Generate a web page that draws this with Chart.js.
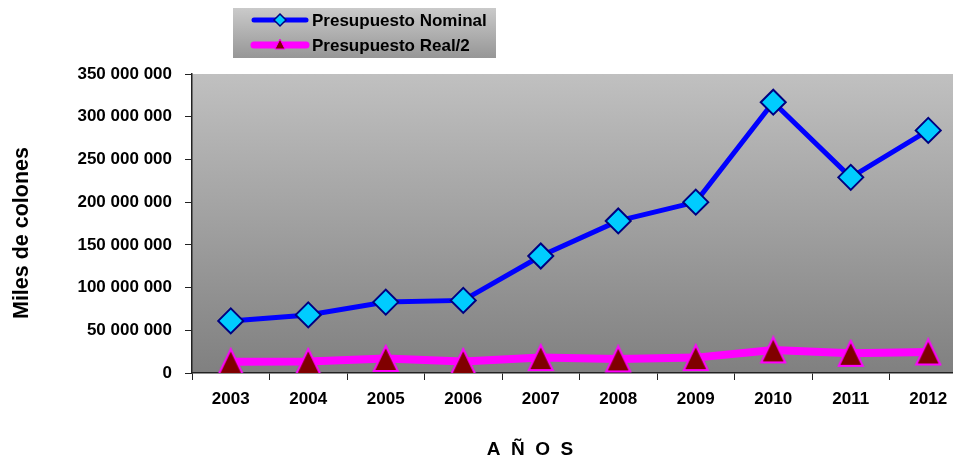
<!DOCTYPE html>
<html>
<head>
<meta charset="utf-8">
<script src="https://cdn.jsdelivr.net/npm/chart.js@4.4.1/dist/chart.umd.min.js"></script>
<style>
  html, body { margin: 0; padding: 0; background: #fff; overflow: hidden; }
  #wrap { width: 975px; height: 462px; }
  #chart { width: 975px; height: 462px; display: block; }
</style>
</head>
<body>
<div id="wrap"><canvas id="chart" width="975" height="462"></canvas></div>
<script>
const years = ["2003", "2004", "2005", "2006", "2007", "2008", "2009", "2010", "2011", "2012"];
const nominal = [61000000, 68000000, 83000000, 85000000, 137000000, 178000000, 200000000, 317000000, 229000000, 284000000];
const realHalf = [13200000, 13500000, 17000000, 13500000, 18000000, 16500000, 18000000, 27000000, 23000000, 24600000];
const seriesNames = ["Presupuesto Nominal", "Presupuesto Real/2"];
const yTicks = [0, 50000000, 100000000, 150000000, 200000000, 250000000, 300000000, 350000000];

const FONT = "'Liberation Sans', Arial, sans-serif";

function fmt(v) {
  return String(v).replace(/\B(?=(\d{3})+(?!\d))/g, " ");
}

// triangulo mas alto que equilatero, como en el original
function makeTriangle(w, h, fill, stroke, lw) {
  const c = document.createElement("canvas");
  c.width = w + lw * 2;
  c.height = h + lw * 2;
  const g = c.getContext("2d");
  g.beginPath();
  g.moveTo(c.width / 2, lw);
  g.lineTo(c.width - lw, lw + h);
  g.lineTo(lw, lw + h);
  g.closePath();
  g.fillStyle = fill;
  g.fill();
  g.lineWidth = lw;
  g.strokeStyle = stroke;
  g.stroke();
  return c;
}

const triBig = makeTriangle(24, 25, "#800000", "#ff00ff", 2);
const triSmall = makeTriangle(10, 10, "#800000", "#ff00ff", 1);

const decor = {
  id: "decor",
  beforeDraw(chart) {
    const { ctx, chartArea: a } = chart;
    const grad = ctx.createLinearGradient(0, a.top, 0, a.bottom);
    grad.addColorStop(0, "#c0c0c0");
    grad.addColorStop(1, "#808080");
    ctx.save();
    ctx.fillStyle = grad;
    ctx.fillRect(a.left, a.top, a.right - a.left, a.bottom - a.top);
    ctx.restore();
  },
  afterDraw(chart) {
    const ctx = chart.ctx;
    ctx.save();
    // leyenda
    const lg = ctx.createLinearGradient(0, 8, 0, 58);
    lg.addColorStop(0, "#cacaca");
    lg.addColorStop(1, "#969696");
    ctx.fillStyle = lg;
    ctx.fillRect(233, 8, 263, 50);

    const ds = chart.data.datasets;
    const rows = [20, 45];
    rows.forEach((y, i) => {
      ctx.strokeStyle = ds[i].borderColor;
      ctx.lineWidth = i === 0 ? 5 : 7;
      ctx.lineCap = "round";
      ctx.beginPath();
      ctx.moveTo(254, y);
      ctx.lineTo(306, y);
      ctx.stroke();
      if (i === 0) {
        ctx.beginPath();
        ctx.moveTo(280, y - 6);
        ctx.lineTo(286, y);
        ctx.lineTo(280, y + 6);
        ctx.lineTo(274, y);
        ctx.closePath();
        ctx.fillStyle = "#00ccff";
        ctx.fill();
        ctx.lineWidth = 1.5;
        ctx.strokeStyle = "#000080";
        ctx.stroke();
      } else {
        ctx.drawImage(triSmall, 280 - triSmall.width / 2, y - triSmall.height / 2 - 1);
      }
      ctx.fillStyle = "#000";
      ctx.font = "bold 17px " + FONT;
      ctx.textAlign = "left";
      ctx.textBaseline = "middle";
      ctx.fillText(ds[i].label, 312, y + 1);
    });

    // titulos de ejes
    ctx.fillStyle = "#000";
    ctx.font = "bold 19px " + FONT;
    ctx.textAlign = "center";
    ctx.textBaseline = "middle";
    ctx.fillText("A  Ñ  O  S", 530, 450);

    ctx.translate(22, 233);
    ctx.rotate(-Math.PI / 2);
    ctx.font = "bold 21.5px " + FONT;
    ctx.fillText("Miles de colones", 0, 0);
    ctx.restore();
  }
};

new Chart(document.getElementById("chart"), {
  type: "line",
  data: {
    labels: years,
    datasets: [
      {
        label: seriesNames[0],
        data: nominal,
        borderColor: "#0000ff",
        borderWidth: 5,
        pointStyle: "rectRot",
        pointRadius: 12.5,
        pointBackgroundColor: "#00ccff",
        pointBorderColor: "#000080",
        pointBorderWidth: 2,
        tension: 0,
      },
      {
        label: seriesNames[1],
        data: realHalf,
        borderColor: "#ff00ff",
        borderWidth: 8,
        pointStyle: triBig,
        pointRadius: 13,
        tension: 0,
      },
    ],
  },
  options: {
    responsive: false,
    animation: false,
    layout: { autoPadding: false, padding: { top: 74, right: 8, left: 0, bottom: 0 } },
    plugins: {
      legend: { display: false },
      tooltip: { enabled: false },
    },
    scales: {
      x: {
        offset: true,
        grid: { display: true, drawOnChartArea: false, drawTicks: true, tickLength: 7, color: "#222", offset: true },
        border: { display: true, color: "#222", width: 1.5 },
        ticks: { color: "#000", padding: 9, font: { family: FONT, size: 17, weight: "bold" }, maxRotation: 0 },
        afterFit(scale) { scale.height = 89; },
      },
      y: {
        min: 0,
        max: 350000000,
        afterBuildTicks(scale) { scale.ticks = yTicks.map((v) => ({ value: v })); },
        grid: { display: true, drawOnChartArea: false, drawTicks: true, tickLength: 7, color: "#222" },
        border: { display: true, color: "#222", width: 1.5 },
        ticks: { color: "#000", padding: 13, font: { family: FONT, size: 17, weight: "bold" }, callback: (v) => fmt(v) },
        afterFit(scale) { scale.width = 192; },
      },
    },
  },
  plugins: [decor],
});
</script>
</body>
</html>
